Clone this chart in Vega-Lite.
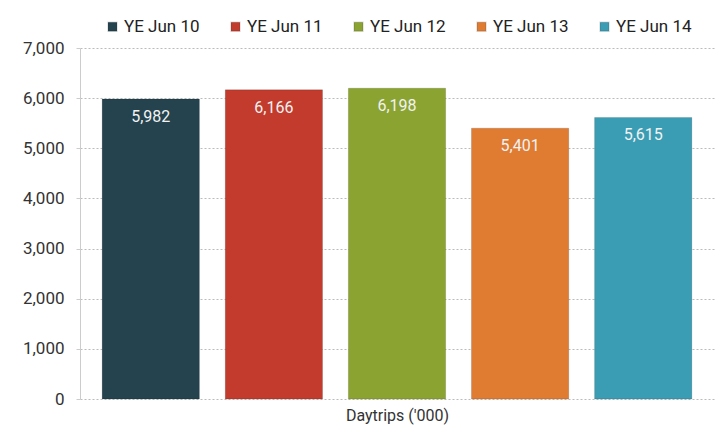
{
  "$schema": "https://vega.github.io/schema/vega-lite/v6.json",
  "autosize": "none",
  "width": 634,
  "height": 351,
  "padding": {"left": 80, "top": 48, "right": 2, "bottom": 37},
  "background": "#ffffff",
  "data": {"values": [
    {"period": "YE Jun 10", "value": 5982},
    {"period": "YE Jun 11", "value": 6166},
    {"period": "YE Jun 12", "value": 6198},
    {"period": "YE Jun 13", "value": 5401},
    {"period": "YE Jun 14", "value": 5615}
  ]},
  "config": {
    "view": {"stroke": null},
    "font": "Roboto, sans-serif"
  },
  "encoding": {
    "x": {
      "field": "period", "type": "nominal", "sort": null,
      "scale": {"paddingInner": 0.21, "paddingOuter": 0.18},
      "axis": {"title": "Daytrips ('000)", "labels": false, "ticks": false, "domain": false,
               "titleFontSize": 16, "titleFontWeight": "normal", "titleColor": "#333333",
               "titlePadding": 8}
    },
    "y": {
      "field": "value", "type": "quantitative",
      "scale": {"domain": [0, 7000], "nice": false},
      "axis": {"title": null, "values": [0,1000,2000,3000,4000,5000,6000,7000], "format": ",.0f",
               "labelFontSize": 17, "labelColor": "#333333", "labelPadding": 12,
               "gridDash": [2, 2], "gridColor": "#bbbbbb", "domain": true, "domainColor": "#cccccc",
               "tickColor": "#cccccc", "tickSize": 4}
    }
  },
  "layer": [
    {
      "mark": {"type": "bar", "stroke": "#00000022", "strokeWidth": 1},
      "encoding": {
        "color": {
          "field": "period", "type": "nominal", "sort": null,
          "scale": {"range": ["#24434e", "#c23b2c", "#8ba331", "#e07b32", "#3a9db4"]},
          "legend": {"title": null, "orient": "none", "direction": "horizontal", "legendX": 24, "legendY": -30,
                     "symbolType": "square", "symbolSize": 80, "labelFontSize": 17, "labelColor": "#222222",
                     "columnPadding": 27, "symbolOffset": 0, "labelOffset": 3}
        }
      }
    },
    {
      "mark": {"type": "text", "baseline": "top", "dy": 10, "fontSize": 16, "color": "#f2f2f2"},
      "encoding": {"text": {"field": "value", "type": "quantitative", "format": ",.0f"}}
    }
  ]
}
